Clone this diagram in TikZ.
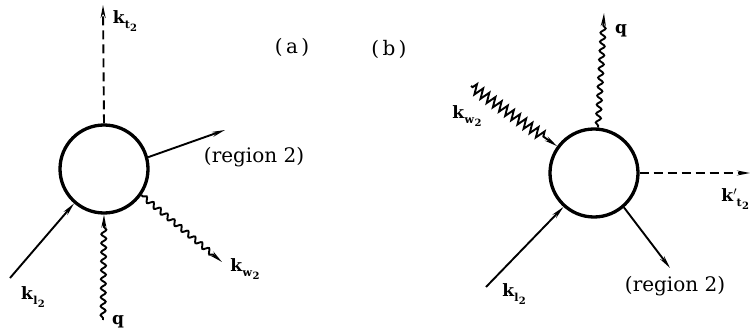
\documentclass[tikz,border=0pt]{standalone}
\usepackage{fontspec}
\setmainfont{DejaVu Serif}
\usetikzlibrary{arrows.meta,decorations.pathmorphing}
\newcommand{\klbl}[2][]{\textbf{k}$^{\mathbf{#1}}$\kern-0.5pt\raisebox{-0.28em}{\fontsize{11}{11}\selectfont\textbf{#2}\kern0.3pt\raisebox{-0.3em}{\fontsize{10}{10}\selectfont\textbf{2}}}}
\begin{document}
\begin{tikzpicture}[x=1pt,y=-1pt,
  line width=1.9pt,
  blob/.style={circle,draw,line width=3.3pt,minimum size=88pt,inner sep=0pt},
  arr/.style={-{Stealth[length=13pt,width=5pt]}},
  dashline/.style={dash pattern=on 9pt off 5pt},
  wavy/.style={decorate,decoration={snake,amplitude=2.5pt,segment length=9pt,pre length=2pt,post length=10pt}},
  zig/.style={decorate,decoration={zigzag,amplitude=5pt,segment length=7.5pt,pre length=2pt,post length=14pt}},
  lbl/.style={font=\fontsize{17}{21}\selectfont,inner sep=0pt},
  txt/.style={font=\fontsize{20}{24}\selectfont,inner sep=0pt}]
\useasboundingbox (0,0) rectangle (752,331);

% ---------- (a) ----------
\node[blob] (ca) at (104,169) {};
\coordinate (ta) at (103,5);
\coordinate (ra) at (225,130);
\coordinate (kwa) at (222,262);
\coordinate (kla) at (10,278);
\coordinate (qa) at (103,320);

\draw[dashline,arr] (ca.north) -- (ta);
\draw[arr] (ca.15) -- (ra);
\draw[wavy,arr] (ca.-35) -- (kwa);
\draw[arr] (kla) -- (ca.229);
\draw[wavy,arr] (qa) -- (ca.south);

\node[lbl] (lta) at (125,21) {\klbl{t}};
\node[txt,anchor=west] (lra) at (203,157) {(region 2)};
\node[lbl] (lkwa) at (245,269) {\klbl{w}};
\node[lbl] (lkla) at (33,297) {\klbl{l}};
\node[lbl] (lqa) at (118,322) {\textbf{q}};

\node[txt] (capa) at (292,47) {(\,a\,)};
\node[txt] (capb) at (389,49) {(\,b\,)};

% ---------- (b) ----------
\node[blob] (cb) at (594,173) {};
\coordinate (qb) at (604,13);
\coordinate (kwb) at (471,86);
\coordinate (ktb) at (750,173);
\coordinate (klb) at (486,287);
\coordinate (rb) at (670,268);

\draw[wavy,arr] (cb.85) -- (qb);
\draw[zig,arr] (kwb) -- (cb.144);
\draw[dashline,arr] (cb.east) -- (ktb);
\draw[arr] (klb) -- (cb.228);
\draw[arr] (cb.-49) -- (rb);

\node[lbl] (lqb) at (621,31) {\textbf{q}};
\node[lbl] (lkwb) at (467,116) {\klbl{w}};
\node[lbl,anchor=east] (lktb) at (750,199) {\klbl[\prime]{t}};
\node[lbl] (lklb) at (514,294) {\klbl{l}};
\node[txt,anchor=west] (lrb) at (624,286) {(region 2)};
\end{tikzpicture}
\end{document}
